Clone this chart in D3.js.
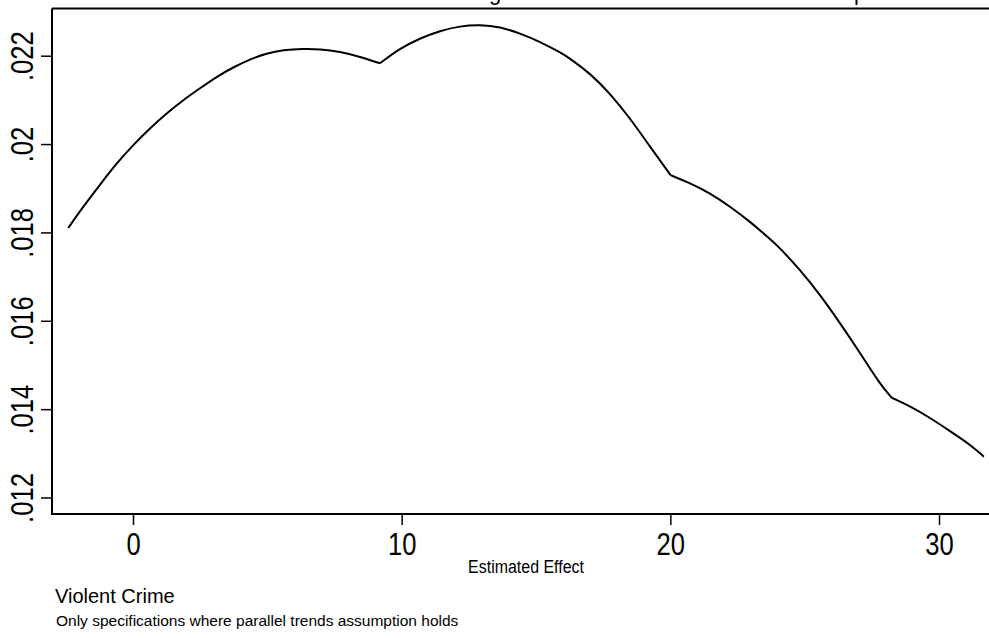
<!DOCTYPE html>
<html>
<head>
<meta charset="utf-8">
<script src="https://cdn.jsdelivr.net/npm/d3@7"></script>
<style>
  body { margin: 0; background: #fff; }
  svg { display: block; font-family: "Liberation Sans", Arial, sans-serif; }
</style>
</head>
<body>
<div id="chart"></div>
<script>
// density curve
const effect = [-2.41, -1.85, -1.23, -0.607, 0.011, 0.633, 1.254, 1.872, 2.494, 3.115, 3.733, 4.354,
  4.976, 5.593, 6.338, 6.959, 7.704, 8.448, 9.193, 9.937, 10.68, 11.43, 12.17, 12.91, 13.66,
  14.40, 15.15, 15.89, 16.26, 17.01, 17.75, 18.50, 19.24, 20.01, 20.73, 21.47, 22.22, 22.96,
  23.71, 24.08, 24.82, 25.57, 26.31, 27.06, 27.80, 28.24, 28.92, 29.66, 30.41, 31.15, 31.67];
const density = [.018099, .018588, .019078, .019568, .019982, .020359, .020698, .020999, .021263,
  .021525, .021738, .021919, .022054, .022129, .022158, .022151, .022090, .021977, .021828,
  .022167, .022393, .022565, .022671, .022701, .022655, .022506, .022316, .022079, .021940,
  .021602, .021150, .020585, .019944, .019297, .019116, .018890, .018588, .018249, .017851,
  .017647, .017157, .016592, .015953, .015275, .014569, .014258, .014068, .013806, .013503,
  .013203, .012925];
// points where the curve has a corner
const kinks = [9.193, 20.01, 28.24];

const xTicks = [0, 10, 20, 30];
const yTicks = [.012, .014, .016, .018, .02, .022];

const width = 989, height = 638;
const plotLeft = 52, plotTop = 8.5, plotBottom = 514, plotRight = 989;

const svg = d3.select("#chart").append("svg")
    .attr("width", width)
    .attr("height", height);

const x = d3.scaleLinear().domain([0, 30]).range([133, 939]);
const y = d3.scaleLinear().domain([.012, .022]).range([497.5, 55.7]);

// cropped title, only the descenders show
svg.append("text").attr("x", 495).attr("y", 0).attr("text-anchor", "middle")
    .attr("font-size", 22).text("g");
svg.append("text").attr("x", 860).attr("y", 0).attr("text-anchor", "middle")
    .attr("font-size", 22).text("p");

// plot frame
svg.append("line").attr("x1", plotLeft).attr("x2", plotRight).attr("y1", plotTop).attr("y2", plotTop)
    .attr("stroke", "#000").attr("stroke-width", 2);
svg.append("line").attr("x1", plotLeft).attr("x2", plotLeft).attr("y1", plotTop).attr("y2", plotBottom)
    .attr("stroke", "#000").attr("stroke-width", 2);
svg.append("line").attr("x1", plotLeft - 1).attr("x2", plotRight).attr("y1", plotBottom).attr("y2", plotBottom)
    .attr("stroke", "#000").attr("stroke-width", 2);

const fmt = d => d3.format(".3f")(d).replace(/^0/, "").replace(/0+$/, "");

const yAxis = svg.append("g")
    .attr("transform", `translate(${plotLeft},0)`)
    .call(d3.axisLeft(y).tickValues(yTicks).tickSize(11).tickFormat(fmt));
yAxis.select(".domain").remove();
yAxis.selectAll(".tick line").attr("stroke-width", 1.5);
yAxis.selectAll(".tick text")
    .attr("x", null).attr("dy", null)
    .attr("transform", "translate(-19,0) rotate(-90) scale(0.8,1)")
    .attr("text-anchor", "middle")
    .attr("font-size", 32)
    .attr("fill", "#000");

const xAxis = svg.append("g")
    .attr("transform", `translate(0,${plotBottom})`)
    .call(d3.axisBottom(x).tickValues(xTicks).tickSize(11));
xAxis.select(".domain").remove();
xAxis.selectAll(".tick line").attr("stroke-width", 1.5);
xAxis.selectAll(".tick text")
    .attr("y", null).attr("dy", null)
    .attr("transform", "translate(0,41) scale(0.8,1)")
    .attr("font-size", 32)
    .attr("fill", "#000");

// split the curve at its corners so the smoothing keeps them sharp
const pts = effect.map((e, i) => [e, density[i]]);
const pieces = [];
let cur = [];
pts.forEach(p => {
    cur.push(p);
    if (kinks.includes(p[0])) {
        pieces.push(cur);
        cur = [p];
    }
});
pieces.push(cur);

const line = d3.line()
    .x(d => x(d[0]))
    .y(d => y(d[1]))
    .curve(d3.curveBasis);

svg.append("g")
    .selectAll("path")
    .data(pieces)
    .join("path")
    .attr("d", line)
    .attr("fill", "none")
    .attr("stroke", "#000")
    .attr("stroke-width", 2)
    .attr("stroke-linejoin", "round");

// texts below the plot
svg.append("text")
    .attr("transform", "translate(526,573) scale(0.84,1)")
    .attr("text-anchor", "middle")
    .attr("font-size", 19)
    .text("Estimated Effect");

svg.append("text")
    .attr("x", 55).attr("y", 603)
    .attr("font-size", 20)
    .text("Violent Crime");

svg.append("text")
    .attr("x", 56).attr("y", 626)
    .attr("font-size", 15.5)
    .text("Only specifications where parallel trends assumption holds");
</script>
</body>
</html>
